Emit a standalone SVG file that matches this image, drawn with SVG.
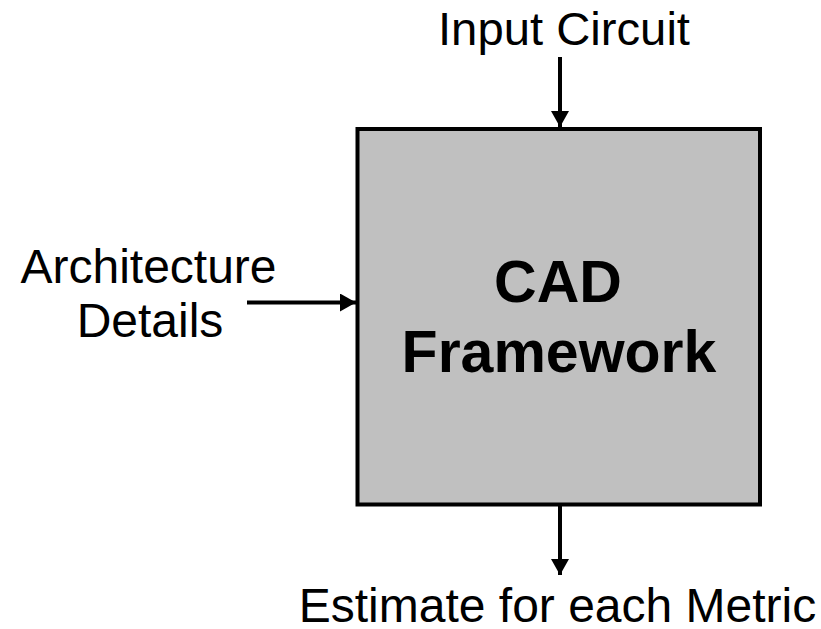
<svg xmlns="http://www.w3.org/2000/svg" width="821" height="629" viewBox="0 0 821 629">
  <style>
    .lbl { font-family: "Liberation Sans", Arial, sans-serif; font-size: 48px; fill: #000; text-anchor: middle; }
    .title { font-family: "Liberation Sans", Arial, sans-serif; font-size: 59px; font-weight: bold; fill: #000; text-anchor: middle; }
    .wire { stroke: #000; stroke-width: 4; fill: none; }
  </style>
  <defs>
    <marker id="arrow" viewBox="0 0 16 18" refX="16" refY="9" markerWidth="16" markerHeight="18" markerUnits="userSpaceOnUse" orient="auto">
      <path d="M0,0 L16,9 L0,18 Z" fill="#000"/>
    </marker>
  </defs>

  <g id="cad-framework">
    <rect x="357.5" y="129" width="402.5" height="375.5" fill="#c0c0c0" stroke="#000" stroke-width="4"/>
    <text class="title" x="558" y="302">CAD</text>
    <text class="title" x="559" y="372">Framework</text>
  </g>

  <g id="input-circuit">
    <text class="lbl" x="564" y="45" style="font-size:46px" textLength="252" lengthAdjust="spacingAndGlyphs">Input Circuit</text>
  </g>

  <g id="architecture-details">
    <text class="lbl" x="148.5" y="283">Architecture</text>
    <text class="lbl" x="150" y="337">Details</text>
  </g>

  <g id="estimate">
    <text class="lbl" x="557.5" y="622">Estimate for each Metric</text>
  </g>

  <g id="connectors">
    <line class="wire" x1="560" y1="57" x2="560" y2="127" marker-end="url(#arrow)"/>
    <line class="wire" x1="247" y1="302.5" x2="356" y2="302.5" marker-end="url(#arrow)"/>
    <line class="wire" x1="560" y1="506" x2="560" y2="575" marker-end="url(#arrow)"/>
  </g>
</svg>
